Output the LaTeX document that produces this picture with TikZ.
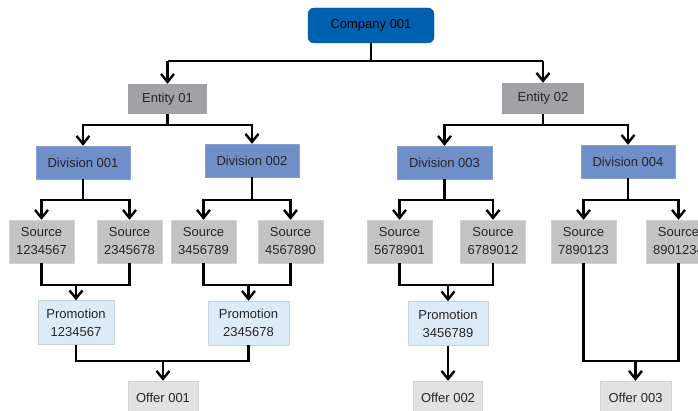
\documentclass[tikz,border=0pt]{standalone}
\usepackage{fontspec}
\setmainfont{Liberation Sans}
\usetikzlibrary{arrows.meta}
\definecolor{compc}{HTML}{0060B0}
\definecolor{compb}{HTML}{0A57A0}
\definecolor{entc}{HTML}{A2A2A6}
\definecolor{divc}{HTML}{6F8FC9}
\definecolor{srcc}{HTML}{C3C3C3}
\definecolor{srcb}{HTML}{D2D2D2}
\definecolor{promc}{HTML}{DDEAF8}
\definecolor{promb}{HTML}{C9D3DE}
\definecolor{offc}{HTML}{E2E2E2}
\definecolor{offb}{HTML}{D3D3D3}
\definecolor{txt}{HTML}{262626}
\tikzset{
  box/.style={inner sep=0pt, align=center, text=txt, font=\fontsize{13}{18}\selectfont},
  compbox/.style={box, fill=compc, draw=compb, rounded corners=6pt, text=black},
  entbox/.style={box, fill=entc, draw=none},
  divbox/.style={box, fill=divc, draw=divc!85!white},
  srcbox/.style={box, fill=srcc, draw=srcb, minimum width=65pt, minimum height=43pt},
  prombox/.style={box, fill=promc, draw=promb, minimum height=44pt},
  offbox/.style={box, fill=offc, draw=offb, minimum height=34pt},
  link/.style={draw=black, line width=2.4pt},
  arr/.style={link, -{Straight Barb[length=8pt,width=13pt]}},
}
\begin{document}
\begin{tikzpicture}[x=1pt,y=-1pt]
\useasboundingbox (0,0) rectangle (698,411);
\clip (0,0) rectangle (698,411);
% levels
\coordinate (yE) at (0,61);
\coordinate (yD) at (0,125);
\coordinate (yS) at (0,200);
\coordinate (yP) at (0,285);
\coordinate (yO) at (0,361);
% nodes
\node[compbox, minimum width=126pt, minimum height=35pt] (comp) at (371,25.5) {Company 001};
\node[entbox, minimum width=79pt, minimum height=30pt] (e1) at (167.5,99) {Entity 01};
\node[entbox, minimum width=82pt, minimum height=31pt] (e2) at (543,98.5) {Entity 02};
\node[divbox, minimum width=94pt, minimum height=33pt] (d1) at (83,162.5) {Division 001};
\node[divbox, minimum width=94pt, minimum height=33pt] (d2) at (252,160.5) {Division 002};
\node[divbox, minimum width=95pt, minimum height=33pt] (d3) at (444.5,162.5) {Division 003};
\node[divbox, minimum width=94pt, minimum height=33pt] (d4) at (628,161.5) {Division 004};
\node[srcbox] (s1) at (41.5,241.5) {Source\\1234567};
\node[srcbox] (s2) at (129.5,241.5) {Source\\2345678};
\node[srcbox] (s3) at (203.5,241.5) {Source\\3456789};
\node[srcbox] (s4) at (290.5,241.5) {Source\\4567890};
\node[srcbox] (s5) at (399.5,241.5) {Source\\5678901};
\node[srcbox] (s6) at (493,241.5) {Source\\6789012};
\node[srcbox] (s7) at (583.5,241.5) {Source\\7890123};
\node[srcbox] (s8) at (678.5,241.5) {Source\\8901234};
\node[prombox, minimum width=76pt] (p1) at (76,322.5) {Promotion\\1234567};
\node[prombox, minimum width=81pt] (p2) at (248.5,323) {Promotion\\2345678};
\node[prombox, minimum width=80pt] (p3) at (448,323.5) {Promotion\\3456789};
\node[offbox, minimum width=70pt] (o1) at (163,398) {Offer 001};
\node[offbox, minimum width=69pt] (o2) at (448,398) {Offer 002};
\node[offbox, minimum width=71pt] (o3) at (635.5,398) {Offer 003};
% connectors
\draw[link, line width=1.8pt] (comp.south) -- (comp.south |- yE);
\draw[arr] (e1.north |- yE) -- (e1.north);
\draw[arr] (e2.north |- yE) -- (e2.north);
\draw[link] (e1.north |- yE) -- (e2.north |- yE);
\foreach \e/\a/\b in {e1/d1/d2, e2/d3/d4}{
  \draw[link] (\e.south) -- (\e.south |- yD);
  \draw[arr] (\e.south |- yD) -| (\a.north);
  \draw[arr] (\e.south |- yD) -| (\b.north);
}
\foreach \d/\a/\b in {d1/s1/s2, d2/s3/s4, d3/s5/s6, d4/s7/s8}{
  \draw[link] (\d.south) -- (\d.south |- yS);
  \draw[arr] (\d.south |- yS) -| (\a.north);
  \draw[arr] (\d.south |- yS) -| (\b.north);
}
\foreach \a/\b/\p in {s1/s2/p1, s3/s4/p2, s5/s6/p3}{
  \draw[link] (\a.south) |- (\b.south |- yP) -- (\b.south);
  \draw[arr] (\p.north |- yP) -- (\p.north);
}
\draw[link] (p1.south) |- (p2.south |- yO) -- (p2.south);
\draw[arr] (o1.north |- yO) -- (o1.north);
\draw[arr] (p3.south) -- (o2.north);
\draw[link] (s7.south) |- (s8.south |- yO) -- (s8.south);
\draw[arr] (o3.north |- yO) -- (o3.north);
\end{tikzpicture}
\end{document}
